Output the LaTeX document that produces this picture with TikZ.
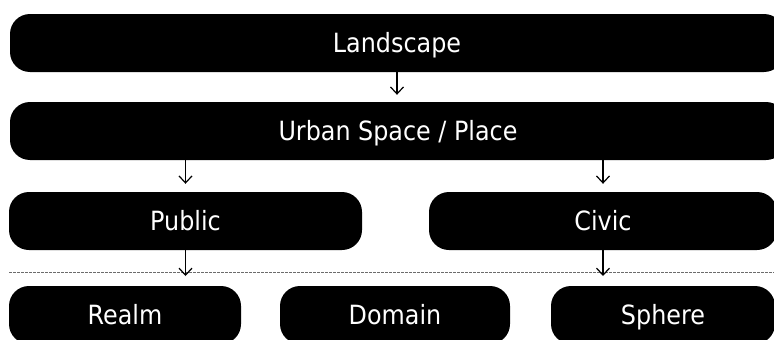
\documentclass[tikz,border=0pt]{standalone}
\usepackage{fontspec}
\setmainfont{DejaVu Sans}[FakeStretch=0.9]
\usetikzlibrary{arrows.meta}
\begin{document}
\begin{tikzpicture}[x=1pt,y=-1pt,
  box/.style={fill=black, text=white, rounded corners=20pt, minimum height=58pt,
    inner sep=0pt, text height=19pt, text depth=0pt, font=\fontsize{26.5}{30}\selectfont},
  arr/.style={draw=black, line width=1.2pt, -{Straight Barb[length=7pt,width=13pt,line width=1.2pt]}},
  sep/.style={draw=gray!85!black, line width=0.8pt, dash pattern=on 2.5pt off 1.5pt}]
\useasboundingbox (0,0) rectangle (774,340);
\clip (0,0) rectangle (774,340);
\node[box, minimum width=774pt] (land) at (397,43) {Landscape};
\node[box, minimum width=776pt] (urban) at (398,131) {Urban Space / Place};
\node[box, minimum width=353pt] (pub) at (185.5,221) {Public};
\node[box, minimum width=348pt] (civ) at (603,221) {Civic};
\node[box, minimum width=232pt] (realm) at (125,315) {Realm};
\node[box, minimum width=230pt] (dom) at (395,315) {Domain};
\node[box, minimum width=224pt] (sph) at (663,315) {Sphere};
\coordinate (sepL) at (9,272);
\coordinate (sepR) at (774,272);
\draw[sep] (sepL) -- (sepR);
\coordinate (d1) at (185.5,276);
\coordinate (d2) at (603,276);
\draw[arr, shorten >=7pt] (land.south) -- (land.south |- urban.north);
\draw[arr, shorten >=8pt] (urban.south -| pub.north) -- (pub.north);
\draw[arr, shorten >=8pt] (urban.south -| civ.north) -- (civ.north);
\draw[arr] (pub.south) -- (d1);
\draw[arr] (civ.south) -- (d2);
\end{tikzpicture}
\end{document}
